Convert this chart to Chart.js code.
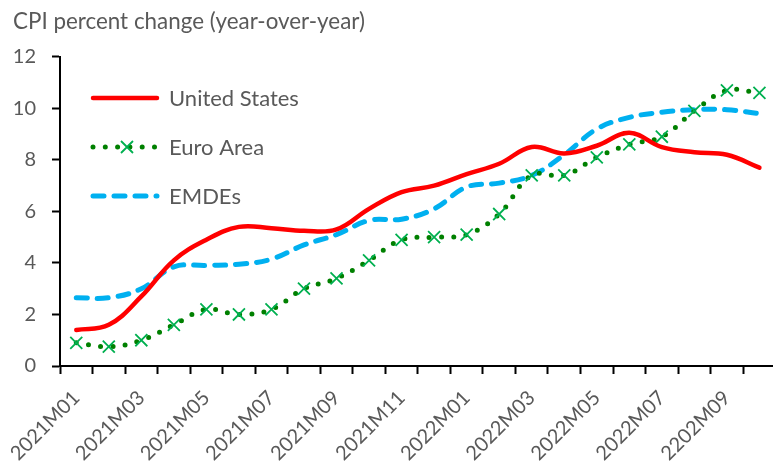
<!DOCTYPE html>
<html>
<head>
<meta charset="utf-8">
<script src="https://cdn.jsdelivr.net/npm/chart.js@4.4.1/dist/chart.umd.min.js"></script>
<style>
    html, body { margin: 0; padding: 0; background: #ffffff; overflow: hidden; }
    #cpiChart { display: block; }
</style>
</head>
<body>
<canvas id="cpiChart" width="786" height="465"></canvas>
<script>
// Data
const months = ['2021M01', '2021M02', '2021M03', '2021M04', '2021M05', '2021M06',
    '2021M07', '2021M08', '2021M09', '2021M10', '2021M11', '2021M12',
    '2022M01', '2022M02', '2022M03', '2022M04', '2022M05', '2022M06',
    '2022M07', '2022M08', '2202M09', '2022M10'];
const usCpi = [1.4, 1.6, 2.7, 4.1, 4.9, 5.4, 5.35, 5.25, 5.3, 6.1, 6.75, 7.0,
    7.45, 7.85, 8.5, 8.25, 8.55, 9.05, 8.5, 8.3, 8.2, 7.7];
const euroCpi = [0.9, 0.75, 1.0, 1.6, 2.2, 2.0, 2.2, 3.0, 3.4, 4.1, 4.9, 5.0,
    5.1, 5.9, 7.4, 7.4, 8.1, 8.6, 8.9, 9.9, 10.7, 10.6];
const emdeCpi = [2.65, 2.65, 3.0, 3.85, 3.9, 3.95, 4.15, 4.7, 5.1, 5.65, 5.7, 6.1,
    6.95, 7.1, 7.4, 8.2, 9.2, 9.65, 9.85, 9.95, 9.95, 9.8];
const yTicks = [0, 2, 4, 6, 8, 10, 12];

const textColor = '#595959';
const fontFamily = 'Lato, "Open Sans", sans-serif';

// Legend drawn inside the plot area, Excel style (long line samples)
const insideLegend = {
    id: 'insideLegend',
    afterDraw(chart) {
        const ctx = chart.ctx;
        const rows = [98, 147, 196];
        const x0 = 93, x1 = 157;
        chart.data.datasets.forEach((ds, i) => {
            const y = rows[i];
            ctx.save();
            ctx.strokeStyle = ds.borderColor;
            ctx.lineWidth = ds.borderWidth;
            ctx.lineCap = ds.borderCapStyle || 'butt';
            ctx.setLineDash(ds.borderDash || []);
            ctx.beginPath();
            ctx.moveTo(x0, y);
            ctx.lineTo(x1, y);
            ctx.stroke();
            if (ds.pointRadius > 0) {
                const r = 6;
                const cx = 127;
                ctx.setLineDash([]);
                ctx.lineCap = 'butt';
                ctx.strokeStyle = ds.pointBorderColor;
                ctx.lineWidth = ds.pointBorderWidth;
                ctx.beginPath();
                ctx.moveTo(cx - r, y - r);
                ctx.lineTo(cx + r, y + r);
                ctx.moveTo(cx + r, y - r);
                ctx.lineTo(cx - r, y + r);
                ctx.stroke();
            }
            ctx.fillStyle = textColor;
            ctx.font = '22px ' + fontFamily;
            ctx.textAlign = 'left';
            ctx.textBaseline = 'middle';
            ctx.fillText(ds.label, 169, y + 1);
            ctx.restore();
        });
    }
};

document.addEventListener('DOMContentLoaded', () => {
    const ctx = document.getElementById('cpiChart').getContext('2d');

    new Chart(ctx, {
        type: 'line',
        data: {
            labels: months,
            datasets: [{
                label: 'United States',
                data: usCpi,
                borderColor: '#ff0000',
                borderWidth: 4.5,
                borderCapStyle: 'round',
                pointRadius: 0,
                tension: 0.4,
                fill: false
            }, {
                label: 'Euro Area',
                data: euroCpi,
                borderColor: '#008000',
                borderWidth: 5,
                borderDash: [0, 12.3],
                borderCapStyle: 'round',
                pointStyle: 'crossRot',
                pointRadius: 8.5,
                pointBorderColor: '#00b050',
                pointBackgroundColor: '#00b050',
                pointBorderWidth: 1.8,
                tension: 0.4,
                fill: false
            }, {
                label: 'EMDEs',
                data: emdeCpi,
                borderColor: '#00b0f0',
                borderWidth: 5,
                borderDash: [11, 10],
                borderCapStyle: 'round',
                pointRadius: 0,
                tension: 0.4,
                fill: false
            }]
        },
        options: {
            responsive: false,
            animation: false,
            devicePixelRatio: 1,
            layout: {
                padding: { left: 13, right: 0, top: 0, bottom: 0 }
            },
            plugins: {
                legend: { display: false },
                tooltip: { enabled: false },
                title: {
                    display: true,
                    text: 'CPI percent change (year-over-year)',
                    align: 'start',
                    color: textColor,
                    font: { family: fontFamily, size: 22.4, weight: 'normal' },
                    padding: { top: 8, bottom: 22 }
                }
            },
            scales: {
                x: {
                    offset: true,
                    grid: {
                        offset: true,
                        drawOnChartArea: false,
                        drawTicks: true,
                        tickLength: 8,
                        tickWidth: 2,
                        tickColor: '#000000'
                    },
                    border: { color: '#000000', width: 2 },
                    ticks: {
                        autoSkip: false,
                        maxRotation: 45,
                        minRotation: 45,
                        padding: 12,
                        color: textColor,
                        font: { family: fontFamily, size: 20 },
                        callback: (value, index) => index % 2 === 0 ? months[index] : ''
                    },
                    afterFit: (scale) => {
                        scale.height = 99;
                        scale.paddingLeft = 0;
                        scale.paddingRight = 0;
                    }
                },
                y: {
                    min: 0,
                    max: 12,
                    grid: {
                        drawOnChartArea: false,
                        drawTicks: true,
                        tickLength: 8,
                        tickWidth: 2,
                        tickColor: '#000000'
                    },
                    border: { color: '#000000', width: 2 },
                    afterBuildTicks: (scale) => {
                        scale.ticks = yTicks.map(v => ({ value: v }));
                    },
                    ticks: {
                        padding: 16,
                        color: textColor,
                        font: { family: fontFamily, size: 20 }
                    },
                    afterFit: (scale) => {
                        scale.width = 47;
                    }
                }
            }
        },
        plugins: [insideLegend]
    });
});
</script>
</body>
</html>
